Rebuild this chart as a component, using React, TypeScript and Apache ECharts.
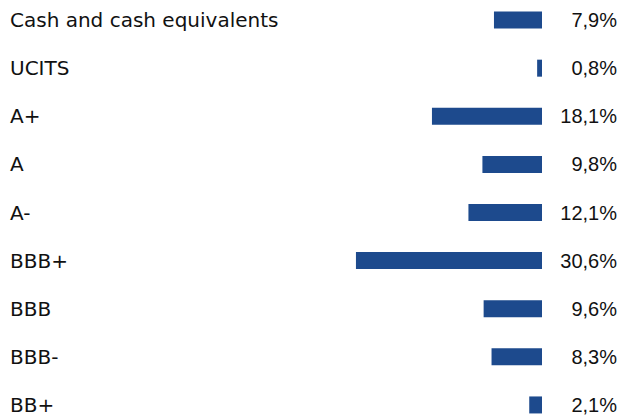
import React, { useEffect, useRef } from "react";
import * as echarts from "echarts";

const categories = [
  "Cash and cash equivalents",
  "UCITS",
  "A+",
  "A",
  "A-",
  "BBB+",
  "BBB",
  "BBB-",
  "BB+",
];
const values = [7.9, 0.8, 18.1, 9.8, 12.1, 30.6, 9.6, 8.3, 2.1];
const valueLabels = ["7,9%", "0,8%", "18,1%", "9,8%", "12,1%", "30,6%", "9,6%", "8,3%", "2,1%"];

export default function App() {
  const ref = useRef<HTMLDivElement>(null);
  useEffect(() => {
    if (!ref.current) return;
    const chart = echarts.init(ref.current, undefined, { renderer: "svg" });
    chart.setOption({
      animation: false,
      grid: { left: 10, right: 79, top: 0, bottom: 0 },
      xAxis: {
        type: "value",
        min: 0,
        max: 87.5,
        inverse: true,
        show: false,
      },
      yAxis: [
        {
          type: "category",
          data: categories,
          inverse: true,
          position: "left",
          axisLine: { show: false },
          axisTick: { show: false },
          axisLabel: {
            align: "left",
            margin: 0,
            color: "#111111",
            fontSize: 20,
            fontFamily: "'DejaVu Sans', sans-serif",
          },
        },
        {
          type: "category",
          data: valueLabels,
          inverse: true,
          position: "right",
          axisLine: { show: false },
          axisTick: { show: false },
          axisLabel: {
            align: "right",
            margin: 75,
            color: "#111111",
            fontSize: 20,
            fontFamily: "'Liberation Sans', Arial, sans-serif",
          },
        },
      ],
      series: [
        {
          type: "bar",
          data: values,
          barWidth: 17,
          itemStyle: { color: "#1d4a8d" },
          yAxisIndex: 0,
        },
      ],
    });
    return () => chart.dispose();
  }, []);
  return (
    <div style={{ position: "absolute", left: 0, top: 0, width: 621, height: 416, overflow: "hidden" }}>
      <div ref={ref} style={{ position: "absolute", left: 0, top: -4, width: 621, height: 433 }} />
    </div>
  );
}
